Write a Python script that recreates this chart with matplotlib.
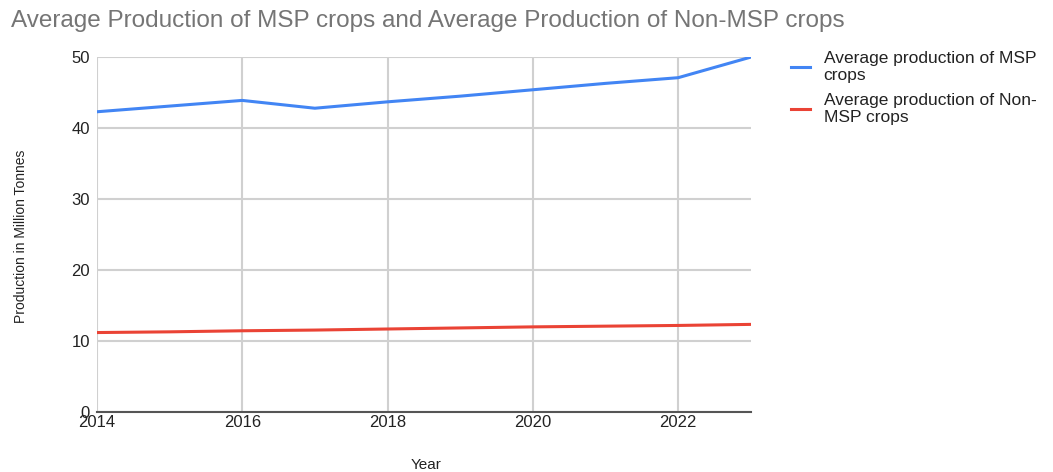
import matplotlib
matplotlib.use("Agg")
from matplotlib import pyplot as plt

plt.rcParams['font.family'] = ['Liberation Sans', 'DejaVu Sans']

years = [2014, 2015, 2016, 2017, 2018, 2019, 2020, 2021, 2022, 2023]
msp = [42.3, 43.1, 43.9, 42.8, 43.7, 44.5, 45.4, 46.3, 47.1, 50.0]
non_msp = [11.2, 11.3, 11.45, 11.55, 11.7, 11.85, 12.0, 12.1, 12.2, 12.35]
x_ticks = [2014, 2016, 2018, 2020, 2022]
y_ticks = [0, 10, 20, 30, 40, 50]

fig = plt.figure(figsize=(10.53, 4.72), dpi=100)
ax = fig.add_axes([0.092, 0.127, 0.621, 0.752])

ax.plot(years, msp, color='#4285f4', lw=2.2, label='Average production of MSP\ncrops', zorder=3)
ax.plot(years, non_msp, color='#ea4335', lw=2.2, label='Average production of Non-\nMSP crops', zorder=3)

ax.set_xlim(2014, 2023)
ax.set_ylim(0, 50)
ax.set_xticks(x_ticks)
ax.set_yticks(y_ticks)
ax.grid(True, color='#d0d0d0', lw=1.5)
ax.set_axisbelow(True)
for s in ['top', 'right', 'left']:
    ax.spines[s].set_visible(False)
ax.spines['bottom'].set_color('#555555')
ax.spines['bottom'].set_linewidth(1.5)
ax.tick_params(length=0, labelsize=12, colors='#222222', pad=5)
ax.tick_params(axis='x', pad=2)

fig.text(0.01, 0.955, 'Average Production of MSP crops and Average Production of Non-MSP crops',
         fontsize=17.5, color='#757575', va='center')
fig.text(0.405, 0.015, 'Year', fontsize=11, color='#222222', ha='center', va='center')
fig.text(0.02, 0.5, 'Production in Million Tonnes', rotation=90, fontsize=10,
         color='#222222', ha='center', va='center',
         family=['Liberation Sans Narrow', 'Liberation Sans'])

ax.legend(loc='upper left', bbox_to_anchor=(0.736, 0.925), bbox_transform=fig.transFigure,
          frameon=False, fontsize=12.5, handlelength=1.1, handletextpad=0.8,
          labelspacing=0.55, labelcolor='#222222')

fig.savefig('out.png', dpi=100)
